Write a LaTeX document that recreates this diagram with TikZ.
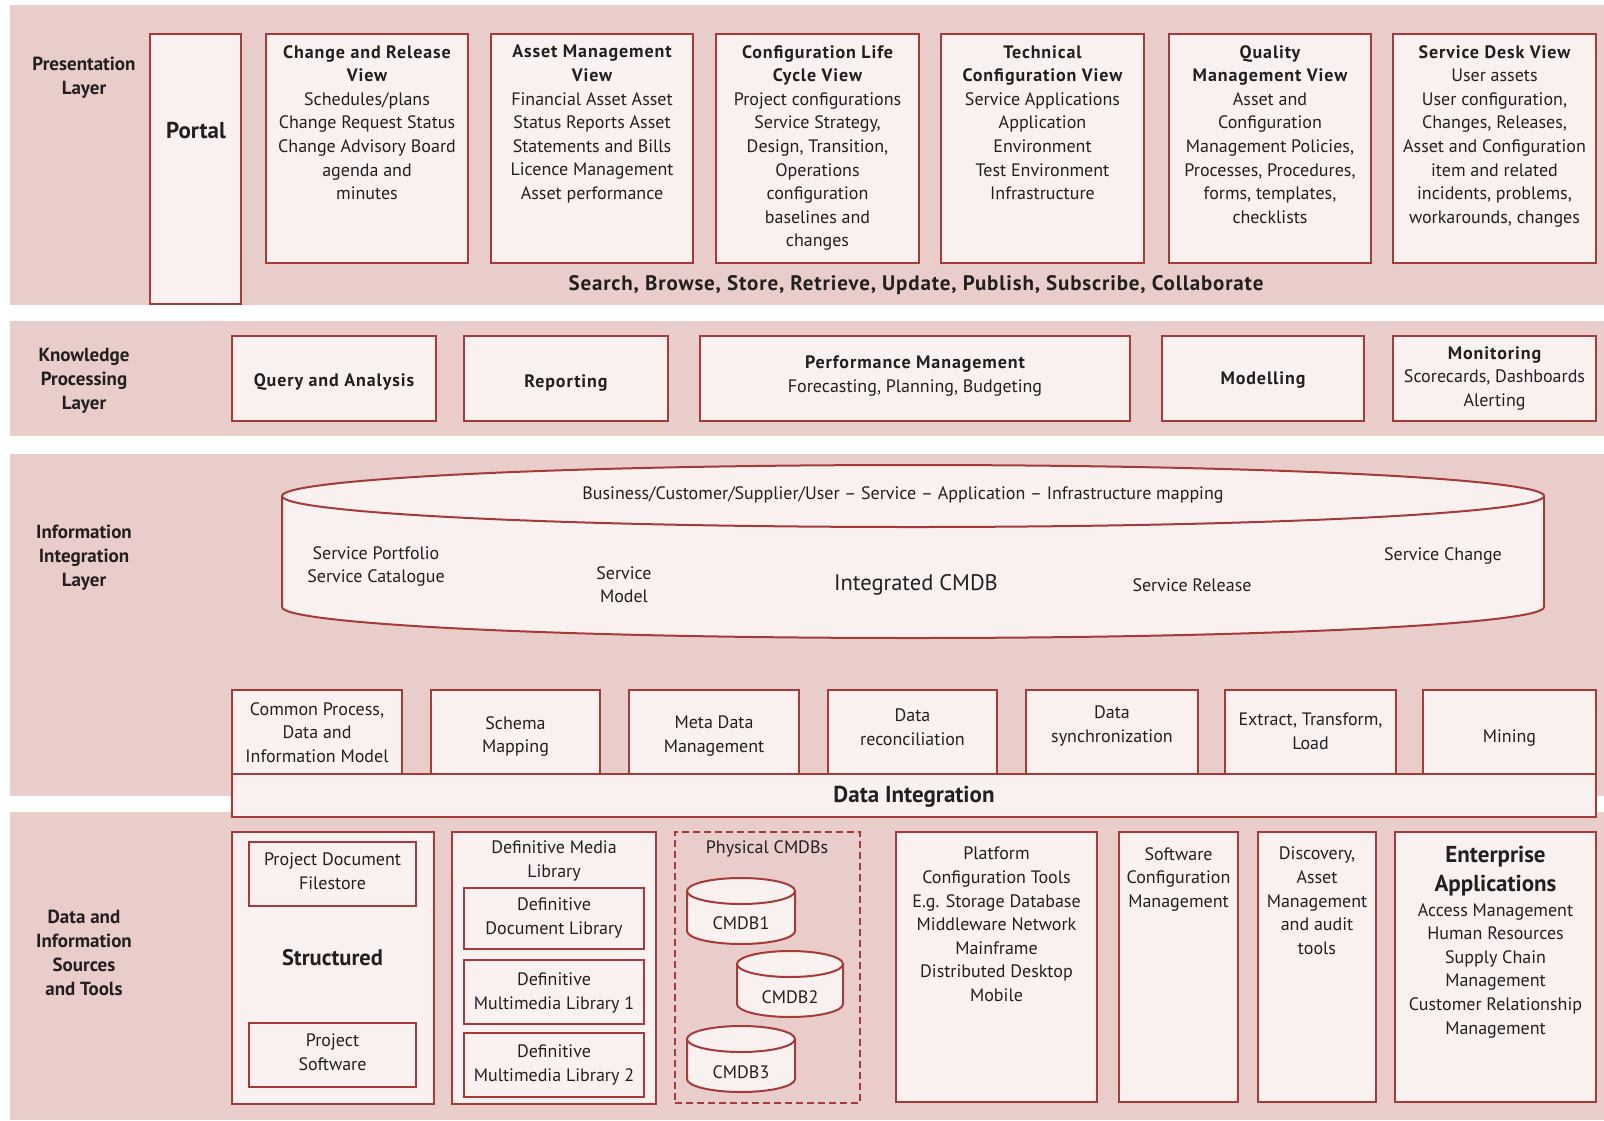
\documentclass[tikz,border=0pt]{standalone}
\usepackage{fontspec}
\setmainfont{PT Sans}
\usetikzlibrary{fit}
\definecolor{bandpink}{RGB}{232,205,202}
\definecolor{boxfill}{RGB}{249,241,240}
\definecolor{edge}{RGB}{165,58,58}
\definecolor{ink}{RGB}{35,31,32}
\newcommand\fsbody{\fontsize{18}{23.6}\selectfont}
\newcommand\hb{\bfseries\addfontfeatures{LetterSpace=5}}
\newcommand\fslabel{\fontsize{19}{24}\selectfont\bfseries}
\newcommand\fsbig{\fontsize{23}{28.5}\selectfont\bfseries}
% a box node spanning two corners
\newcommand\bx[6][]{\node[box,#1,fit={(#3,#4)(#5,#6)}] (#2) {};}
% a drum (cylinder) from x1 to x2, top/bottom ellipse centres, y radius
\newcommand\drum[5]{%
  \pgfmathsetmacro\drumrx{(#2-#1)/2}%
  \filldraw[drumline] (#1,#3) -- (#1,#4)
    arc[start angle=180,end angle=360,x radius=\drumrx pt,y radius=#5pt]
    -- (#2,#3)
    arc[start angle=0,end angle=180,x radius=\drumrx pt,y radius=#5pt] -- cycle;
  \draw[drumline] (#1,#3)
    arc[start angle=180,end angle=360,x radius=\drumrx pt,y radius=#5pt];}
\begin{document}
\begin{tikzpicture}[x=1pt,y=-1pt,
  band/.style={fill=bandpink,draw=none},
  box/.style={draw=edge,fill=boxfill,line width=2.2pt,inner sep=0pt,rectangle},
  drumline/.style={draw=edge,fill=boxfill,line width=2pt},
  tx/.style={inner sep=0pt,align=center,text=ink,font=\fsbody,anchor=north},
  tl/.style={tx,anchor=mid,yshift=-4pt},
  lab/.style={tx,font=\fslabel}]
\useasboundingbox (0,0) rectangle (1604,1120);
\fill[white] (0,0) rectangle (1604,1120);

% ---------- layer bands
\fill[band] (10,5) rectangle (1604,305);
\fill[band] (10,321) rectangle (1604,436);
\fill[band] (10,454) rectangle (1604,796);
\fill[band] (10,812) rectangle (1604,1120);

\node[lab] (lpres) at (84,57) {Presentation\\Layer};
\node[lab] (lknow) at (84,348) {Knowledge\\Processing\\Layer};
\node[lab] (linfo) at (84,525) {Information\\Integration\\Layer};
\node[lab] (ldata) at (84,910) {Data and\\Information\\Sources\\and Tools};

% ---------- presentation layer
\bx{portal}{150}{34}{241}{304}
\bx{chg}{266}{34}{468}{263}
\bx{asset}{491}{34}{693}{263}
\bx{clc}{716}{34}{919}{263}
\bx{tech}{941}{34}{1144}{263}
\bx{qual}{1169}{34}{1371}{263}
\bx{desk}{1393}{34}{1596}{263}

\node[tl,font=\fontsize{23}{26}\selectfont\bfseries] (portalT) at (196,132) {Portal};
\node[tx] (chgT) at (367,45) {{\hb Change and Release}\\{\hb View}\\Schedules/plans\\Change Request Status\\Change Advisory Board\\agenda and\\minutes};
\node[tx] (assetT) at (592,45) {{\hb Asset Management}\\{\hb View}\\Financial Asset Asset\\Status Reports Asset\\Statements and Bills\\Licence Management\\Asset performance};
\node[tx] (clcT) at (817.5,45) {{\hb Configuration Life}\\{\hb Cycle View}\\Project configurations\\Service Strategy,\\Design, Transition,\\Operations\\configuration\\baselines and\\changes};
\node[tx] (techT) at (1042.5,45) {{\hb Technical}\\{\hb Configuration View}\\Service Applications\\Application\\Environment\\Test Environment\\Infrastructure};
\node[tx] (qualT) at (1270,45) {{\hb Quality}\\{\hb Management View}\\Asset and\\Configuration\\Management Policies,\\Processes, Procedures,\\forms, templates,\\checklists};
\node[tx] (deskT) at (1494.5,45) {{\hb Service Desk View}\\User assets\\User configuration,\\Changes, Releases,\\Asset and Configuration\\item and related\\incidents, problems,\\workarounds, changes};
\node[tl,font=\fontsize{21}{24}\selectfont\bfseries\addfontfeatures{LetterSpace=4}] (ops) at (916,284) {Search, Browse, Store, Retrieve, Update, Publish, Subscribe, Collaborate};

% ---------- knowledge processing layer
\bx{query}{232}{336}{436}{421}
\bx{rep}{464}{336}{668}{421}
\bx{perf}{700}{336}{1130}{421}
\bx{model}{1162}{336}{1364}{421}
\bx{mon}{1393}{336}{1596}{421}
\node[tl,font=\fsbody\hb] (queryT) at (334,380) {Query and Analysis};
\node[tl,font=\fsbody\hb] (repT) at (566,381) {Reporting};
\node[tx] (perfT) at (915,356) {{\hb Performance Management}\\Forecasting, Planning, Budgeting};
\node[tl,font=\fsbody\hb] (modelT) at (1263,378) {Modelling};
\node[tx] (monT) at (1494.5,346) {{\hb Monitoring}\\Scorecards, Dashboards\\Alerting};

% ---------- information integration layer
\drum{282}{1544}{496}{607}{31}
\node[tl] (mapT) at (903,493) {Business/Customer/Supplier/User -- Service -- Application -- Infrastructure mapping};
\node[tx] (portT) at (376,546) {Service Portfolio\\Service Catalogue};
\node[tx] (smT) at (624,566) {Service\\Model};
\node[tl,font=\fontsize{22.5}{26}\selectfont] (cmdbT) at (916,584) {Integrated CMDB};
\node[tl] (relT) at (1192,585) {Service Release};
\node[tl] (chgsT) at (1443,554) {Service Change};

\bx{dint}{232}{774}{1596}{817}
\bx{cpm}{232}{690}{402}{774}
\bx{schema}{431}{690}{600}{774}
\bx{meta}{629}{690}{799}{774}
\bx{recon}{828}{690}{997}{774}
\bx{sync}{1026}{690}{1198}{774}
\bx{etl}{1225}{690}{1396}{774}
\bx{mining}{1423}{690}{1596}{774}
\node[tx] (cpmT) at (317,702) {Common Process,\\Data and\\Information Model};
\node[tx] (schemaT) at (515.5,716) {Schema\\Mapping};
\node[tx] (metaT) at (714,716) {Meta Data\\Management};
\node[tx] (reconT) at (912.5,709) {Data\\reconciliation};
\node[tx] (syncT) at (1112,706) {Data\\synchronization};
\node[tx] (etlT) at (1310.5,713) {Extract, Transform,\\Load};
\node[tl] (miningT) at (1509.5,736) {Mining};
\node[tl,font=\fontsize{23}{26}\selectfont\bfseries] (dintT) at (914,796) {Data Integration};

% ---------- data and information sources
\bx{struct}{232}{832}{434}{1104}
\bx{pdf}{249}{842}{416}{906}
\bx{psw}{249}{1023}{416}{1087}
\node[tx] (pdfT) at (332.5,853) {Project Document\\Filestore};
\node[tl,font=\fontsize{22.5}{24}\selectfont\bfseries] (structT) at (332.5,959) {Structured};
\node[tx] (pswT) at (332.5,1034) {Project\\Software};

\bx{dml}{452}{832}{656}{1104}
\bx{ddl}{464}{888}{644}{949}
\bx{dmla}{464}{960}{644}{1024}
\bx{dmlb}{464}{1033}{644}{1097}
\node[tx] (dmlT) at (554,841) {Definitive Media\\Library};
\node[tx] (ddlT) at (554,898) {Definitive\\Document Library};
\node[tx] (dmlaT) at (554,973) {Definitive\\Multimedia Library 1};
\node[tx] (dmlbT) at (554,1045) {Definitive\\Multimedia Library 2};

\node[draw=edge,line width=2pt,dash pattern=on 7pt off 4pt,inner sep=0pt,fit={(675,832)(860,1103)}] (phys) {};
\node[tl] (physT) at (767,847) {Physical CMDBs};
\drum{687}{795}{891}{931}{13}
\drum{737}{843}{964}{1004}{13}
\drum{687}{795}{1039}{1079}{13}
\node[tl] (cmdbA) at (741,923) {CMDB1};
\node[tl] (cmdbB) at (790,997) {CMDB2};
\node[tl] (cmdbC) at (741,1072) {CMDB3};

\bx{plat}{896}{832}{1097}{1102}
\bx{scm}{1119}{832}{1238}{1102}
\bx{disc}{1258}{832}{1376}{1102}
\bx{ent}{1395}{832}{1596}{1102}
\node[tx] (platT) at (996.5,847) {Platform\\Configuration Tools\\E.g. Storage Database\\Middleware Network\\Mainframe\\Distributed Desktop\\Mobile};
\node[tx] (scmT) at (1178.5,847) {Software\\Configuration\\Management};
\node[tx] (discT) at (1317,847) {Discovery,\\Asset\\Management\\and audit\\tools};
\node[tx,font=\fsbig] (entH) at (1495.5,846) {Enterprise\\Applications};
\node[tx] (entT) at (1495.5,903) {Access Management\\Human Resources\\Supply Chain\\Management\\Customer Relationship\\Management};
\end{tikzpicture}
\end{document}
